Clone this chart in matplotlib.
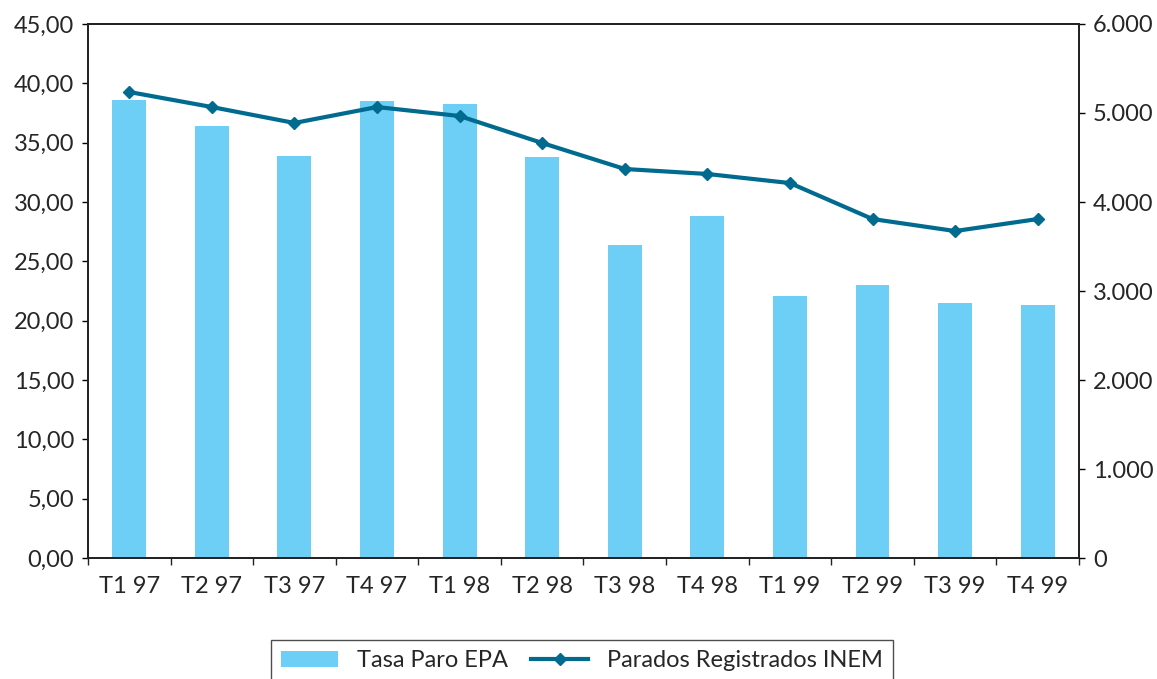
import matplotlib.pyplot as plt
import matplotlib.ticker as mticker
import numpy as np

quarters = ['T1 97', 'T2 97', 'T3 97', 'T4 97', 'T1 98', 'T2 98',
            'T3 98', 'T4 98', 'T1 99', 'T2 99', 'T3 99', 'T4 99']
tasa_paro = [38.6, 36.4, 33.9, 38.5, 38.3, 33.8, 26.4, 28.8, 22.1, 23.0, 21.5, 21.3]
parados_inem = [5236, 5067, 4888, 5067, 4966, 4663, 4371, 4315, 4213, 3809, 3674, 3809]

plt.rcParams['font.family'] = ['Lato', 'DejaVu Sans']
txt = '#262626'
bar_col = '#6dcff6'
line_col = '#006b8f'

fig = plt.figure(figsize=(11.57, 6.79), dpi=100)
ax = fig.add_axes([0.076, 0.178, 0.8566, 0.7867])
ax2 = ax.twinx()

x = np.arange(len(quarters))
bars = ax.bar(x, tasa_paro, width=0.41, color=bar_col, label='Tasa Paro EPA', zorder=2)
line, = ax2.plot(x, parados_inem, color=line_col, lw=3, marker='D', ms=6,
                 label='Parados Registrados INEM', zorder=3)

ax.set_xlim(-0.5, len(quarters) - 0.5)
ax.set_ylim(0, 45)
ax2.set_ylim(0, 6000)
ax.set_yticks(np.arange(0, 46, 5))
ax2.set_yticks(np.arange(0, 6001, 1000))
ax.yaxis.set_major_formatter(mticker.FuncFormatter(lambda v, p: f'{v:.2f}'.replace('.', ',')))
ax2.yaxis.set_major_formatter(mticker.FuncFormatter(lambda v, p: f'{int(v):,}'.replace(',', '.')))

ax.set_xticks(x)
ax.set_xticklabels(quarters)
ax.set_xticks(np.arange(-0.5, len(quarters), 1), minor=True)
ax.tick_params(axis='x', which='major', length=0, pad=13, labelsize=17, labelcolor=txt)
ax.tick_params(axis='x', which='minor', length=5, width=1, color='#222222')
ax.tick_params(axis='y', length=4, width=1, labelsize=17, labelcolor=txt, pad=6)
ax2.tick_params(axis='y', length=4, width=1, labelsize=17, labelcolor=txt, pad=6)

for a in (ax, ax2):
    for s in a.spines.values():
        s.set_color('#222222')
        s.set_linewidth(1.3)

fig.legend([bars, line], ['Tasa Paro EPA', 'Parados Registrados INEM'],
           loc='upper center', bbox_to_anchor=(0.503, 0.058), ncol=2,
           fontsize=17, frameon=True, fancybox=False, edgecolor='#222222',
           handlelength=2.4, columnspacing=1.0, borderpad=0.45, borderaxespad=0,
           labelcolor=txt)

fig.savefig('out.png', dpi=100)
